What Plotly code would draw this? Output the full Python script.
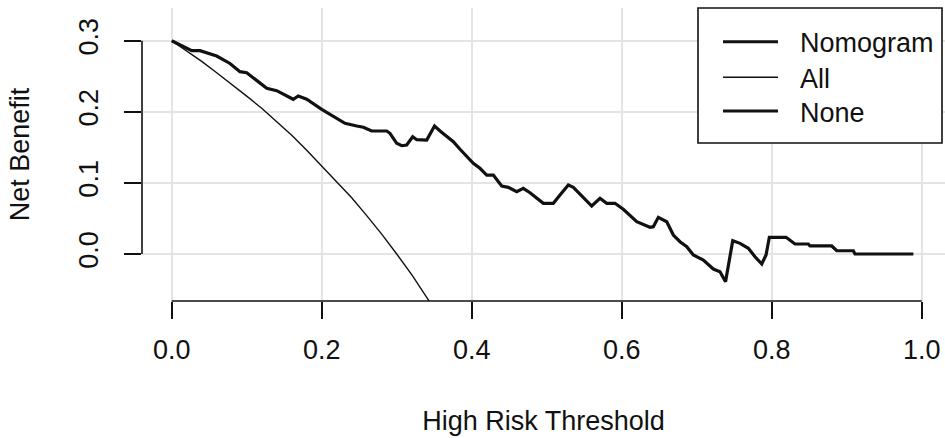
import plotly.graph_objects as go

# ---------------- data ----------------
thresholds_model = [0.000, 0.0155, 0.0267, 0.0377, 0.0488, 0.060, 0.0777, 0.091, 0.100, 0.1133,
                    0.1267, 0.140, 0.1577, 0.162, 0.1688, 0.180, 0.200, 0.2155, 0.231, 0.2467,
                    0.2555, 0.2667, 0.2867, 0.291, 0.300, 0.3067, 0.3133, 0.3213, 0.3267, 0.340,
                    0.3504, 0.359, 0.3755, 0.3844, 0.4021, 0.411, 0.420, 0.4288, 0.440, 0.4488,
                    0.460, 0.4688, 0.4777, 0.4955, 0.5088, 0.5177, 0.5288, 0.5355, 0.560, 0.571,
                    0.580, 0.591, 0.6021, 0.620, 0.6377, 0.6421, 0.6488, 0.660, 0.6688, 0.6777,
                    0.6867, 0.6955, 0.7088, 0.7221, 0.731, 0.7384, 0.7421, 0.748, 0.7577, 0.7688,
                    0.7777, 0.7867, 0.7924, 0.7968, 0.8191, 0.831, 0.8488, 0.851, 0.880, 0.8867,
                    0.9088, 0.911, 0.9888]
nb_model = [0.300, 0.2925, 0.286, 0.286, 0.2823, 0.2785, 0.268, 0.2564, 0.255, 0.2447,
            0.233, 0.2297, 0.219, 0.2176, 0.2222, 0.2176, 0.2035, 0.1931, 0.1838, 0.180,
            0.1782, 0.173, 0.173, 0.1698, 0.1557, 0.1523, 0.1533, 0.165, 0.1608, 0.1603,
            0.180, 0.172, 0.158, 0.1473, 0.1276, 0.1205, 0.111, 0.111, 0.0956, 0.0938,
            0.0876, 0.0924, 0.0862, 0.0713, 0.0713, 0.083, 0.097, 0.0938, 0.0675, 0.0783,
            0.0713, 0.0713, 0.0629, 0.0454, 0.0376, 0.0384, 0.0516, 0.0454, 0.0267, 0.0173,
            0.0103, -0.0014, -0.0084, -0.0211, -0.0249, -0.039, -0.0155, 0.0187, 0.015, 0.008,
            -0.0038, -0.0141, -0.0014, 0.0235, 0.0235, 0.0141, 0.0141, 0.0113, 0.0113, 0.0046,
            0.0046, 0.000, 0.000]

thresholds_all = [0.00, 0.02, 0.04, 0.06, 0.08, 0.10, 0.12, 0.14, 0.16, 0.18,
                  0.20, 0.22, 0.24, 0.26, 0.28, 0.30, 0.32, 0.34, 0.35]
nb_all = [0.300, 0.286, 0.271, 0.255, 0.239, 0.222, 0.205, 0.186, 0.167, 0.146,
          0.124, 0.102, 0.079, 0.054, 0.028, 0.000, -0.029, -0.061, -0.077]

thresholds_none = [0.0, 1.0]
nb_none = [0.0, 0.0]

series_names = ["Nomogram", "All", "None"]
x_ticks = [0.0, 0.2, 0.4, 0.6, 0.8, 1.0]
y_ticks = [0.0, 0.1, 0.2, 0.3]
x_title = "High Risk Threshold"
y_title = "Net Benefit"

# ---------------- styling ----------------
FONT = "Liberation Sans, Arial, sans-serif"
FS = 27
GRID = "#e4e4e4"
INK = "#111111"

W, H = 945, 438
ML, MR, MT, MB = 142, 0, 8, 137
PW, PH = W - ML - MR, H - MT - MB


def px(xp):
    return (xp - ML) / PW


def py(yp):
    return (H - MB - yp) / PH


fig = go.Figure()
fig.add_trace(go.Scatter(x=thresholds_none, y=nb_none, mode="lines", name=series_names[2],
                         line=dict(color=GRID, width=1.5), showlegend=False, hoverinfo="skip"))
fig.add_trace(go.Scatter(x=thresholds_all, y=nb_all, mode="lines", name=series_names[1],
                         line=dict(color=INK, width=1.4), showlegend=False))
fig.add_trace(go.Scatter(x=thresholds_model, y=nb_model, mode="lines", name=series_names[0],
                         line=dict(color=INK, width=3.2), showlegend=False))

shapes = [
    # R-style axis lines spanning first to last tick
    dict(type="line", xref="x", yref="paper", x0=x_ticks[0], x1=x_ticks[-1], y0=0, y1=0,
         line=dict(color=INK, width=1.6)),
    dict(type="line", xref="paper", yref="y", x0=0, x1=0, y0=y_ticks[0], y1=y_ticks[-1],
         line=dict(color=INK, width=1.6)),
    # legend box
    dict(type="rect", xref="paper", yref="paper", x0=px(698), x1=px(942), y0=py(143), y1=py(8),
         fillcolor="white", line=dict(color=INK, width=1.6), layer="above"),
]
annotations = []
rows = [41.7, 77.3, 111.0]
widths = [3, 1.5, 3]
for name, yr, lw in zip(series_names, rows, widths):
    shapes.append(dict(type="line", xref="paper", yref="paper", x0=px(723), x1=px(778),
                       y0=py(yr), y1=py(yr), line=dict(color=INK, width=lw), layer="above"))
    annotations.append(dict(xref="paper", yref="paper", x=px(798), y=py(yr + 1.5),
                            xanchor="left", yanchor="middle", text=name, showarrow=False,
                            font=dict(family=FONT, size=FS, color=INK)))

fig.update_layout(
    width=W, height=H,
    margin=dict(l=ML, r=MR, t=MT, b=MB, pad=0),
    paper_bgcolor="white", plot_bgcolor="white",
    font=dict(family=FONT, size=FS, color=INK),
    showlegend=False,
    shapes=shapes, annotations=annotations,
    xaxis=dict(range=[-0.0396, 1.031], tickvals=x_ticks, tickformat=".1f",
               showgrid=True, gridcolor=GRID, gridwidth=1.5, zeroline=False, showline=False,
               ticks="outside", ticklen=17, tickwidth=1.6, tickcolor=INK,
               ticklabelstandoff=8,
               title=dict(text=x_title, standoff=46, font=dict(size=FS))),
    yaxis=dict(range=[-0.0661, 0.346], tickvals=y_ticks, tickformat=".1f", tickangle=-90,
               showgrid=True, gridcolor=GRID, gridwidth=1.5, zeroline=False, showline=False,
               ticks="outside", ticklen=17, tickwidth=1.6, tickcolor=INK,
               ticklabelstandoff=15,
               title=dict(text=y_title, standoff=36, font=dict(size=FS))),
)

fig.write_html("out.html")
